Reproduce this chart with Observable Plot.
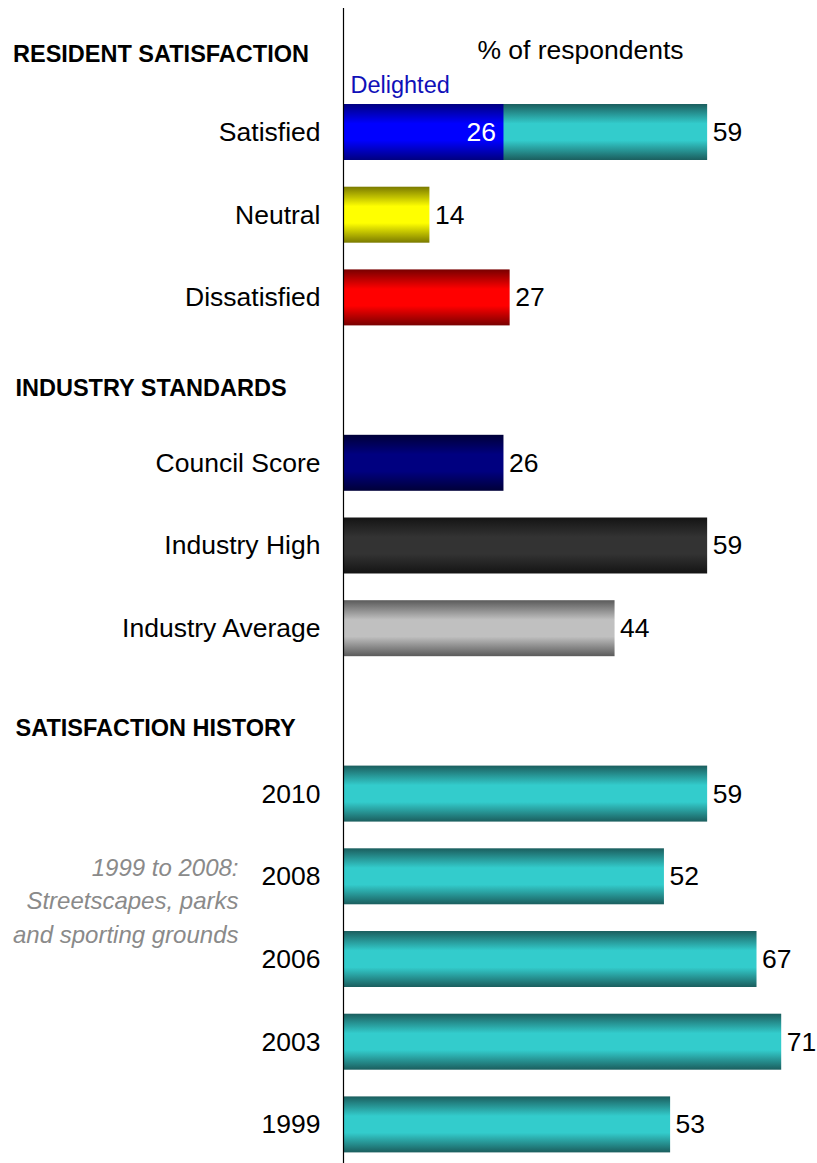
<!DOCTYPE html>
<html>
<head>
<meta charset="utf-8">
<script src="https://cdn.jsdelivr.net/npm/d3@7"></script>
<script src="https://cdn.jsdelivr.net/npm/@observablehq/plot@0.6"></script>
<style>
  html, body { margin: 0; padding: 0; background: #fff; }
</style>
</head>
<body>
<div id="chart"></div>
<script>
// ---- data ----
const categories = ["Satisfied", "Neutral", "Dissatisfied", "Council Score", "Industry High", "Industry Average", "2010", "2008", "2006", "2003", "1999"];
const values = [59, 14, 27, 26, 59, 44, 59, 52, 67, 71, 53];
const barColors = ["teal", "yellow", "red", "navy", "black", "gray", "teal", "teal", "teal", "teal", "teal"];
const delightedLabel = "Delighted";
const delightedValue = 26;
const sectionKeys = ["h1", "h2", "h3"];
const sectionTitles = ["RESIDENT SATISFACTION", "INDUSTRY STANDARDS", "SATISFACTION HISTORY"];
const axisTitle = "% of respondents";
const noteLines = "1999 to 2008:\nStreetscapes, parks\nand sporting grounds";

// gradient definitions: [id, edge colour, centre colour]
const gradients = [
  ["teal", "#1b5e5e", "#33cccc"],
  ["blue", "#000080", "#0000ff"],
  ["yellow", "#7a7a00", "#ffff00"],
  ["red", "#780000", "#ff0000"],
  ["navy", "#000038", "#000080"],
  ["black", "#141414", "#333333"],
  ["gray", "#5a5a5a", "#c0c0c0"]
];

const yDomain = ["h1", "Satisfied", "Neutral", "Dissatisfied", "h2", "Council Score", "Industry High", "Industry Average", "h3", "2010", "2008", "2006", "2003", "1999"];

const rows = categories.map((c, i) => ({cat: c, value: values[i], grad: `url(#g-${barColors[i]})`}));
const delighted = [{cat: "Satisfied", value: delightedValue, grad: "url(#g-blue)"}];

const font = "Liberation Sans, Arial, sans-serif";

const sectionStyle = {x: 0, textAnchor: "start", fontSize: 23.5, fontWeight: "bold", fill: "#000"};

const plot = Plot.plot({
  width: 817,
  height: 1163,
  marginLeft: 343,
  marginRight: 0,
  marginTop: 8,
  marginBottom: 0,
  style: {fontFamily: font, fontSize: "26.5px", color: "#000", background: "#fff"},
  x: {domain: [0, 76.8], axis: null},
  y: {
    type: "band",
    domain: yDomain,
    range: [7.95, 1165.75],
    round: false,
    paddingInner: 0.323,
    paddingOuter: 0.1615,
    axis: "left",
    tickSize: 0,
    tickPadding: 23,
    label: null,
    tickFormat: d => sectionKeys.includes(d) ? "" : d
  },
  color: {type: "identity"},
  marks: [
    Plot.barX(rows, {y: "cat", x: "value", fill: "grad"}),
    Plot.barX(delighted, {y: "cat", x: "value", fill: "grad"}),
    Plot.ruleX([0], {stroke: "#000", strokeWidth: 1.2}),
    Plot.text(rows, {y: "cat", x: "value", text: d => String(d.value), textAnchor: "start", dx: 5, fontSize: 26.5, fill: "#000"}),
    Plot.text(delighted, {y: "cat", x: "value", text: d => String(d.value), textAnchor: "end", dx: -8, fontSize: 26.5, fill: "#fff"}),
    Plot.text(delighted, {y: "cat", x: 0, text: () => delightedLabel, textAnchor: "start", dx: 7, dy: -47, fontSize: 23.5, fill: "#1010b8"}),
    Plot.text([sectionTitles[0]], {...sectionStyle, y: () => sectionKeys[0], text: d => d, dx: -330.5, dy: 4.7}),
    Plot.text([sectionTitles[1]], {...sectionStyle, y: () => sectionKeys[1], text: d => d, dx: -328, dy: 8}),
    Plot.text([sectionTitles[2]], {...sectionStyle, y: () => sectionKeys[2], text: d => d, dx: -328, dy: 17}),
    Plot.text([axisTitle], {y: () => sectionKeys[0], text: d => d, dy: 0.5, fontSize: 26.5, fill: "#000"}),
    Plot.text([noteLines], {y: () => "2008", x: 0, text: d => d, textAnchor: "end", dx: -105, dy: 22, lineHeight: 1.39, fontSize: 24, fontStyle: "italic", fill: "#8a8a8a"})
  ]
});

const svg = d3.select(plot);
const defs = svg.insert("defs", ":first-child");
for (const [id, edge, mid] of gradients) {
  const g = defs.append("linearGradient").attr("id", `g-${id}`)
    .attr("x1", 0).attr("y1", 0).attr("x2", 0).attr("y2", 1);
  g.append("stop").attr("offset", "0%").attr("stop-color", edge);
  g.append("stop").attr("offset", "35%").attr("stop-color", mid);
  g.append("stop").attr("offset", "65%").attr("stop-color", mid);
  g.append("stop").attr("offset", "100%").attr("stop-color", edge);
}

document.getElementById("chart").appendChild(plot);
</script>
</body>
</html>
